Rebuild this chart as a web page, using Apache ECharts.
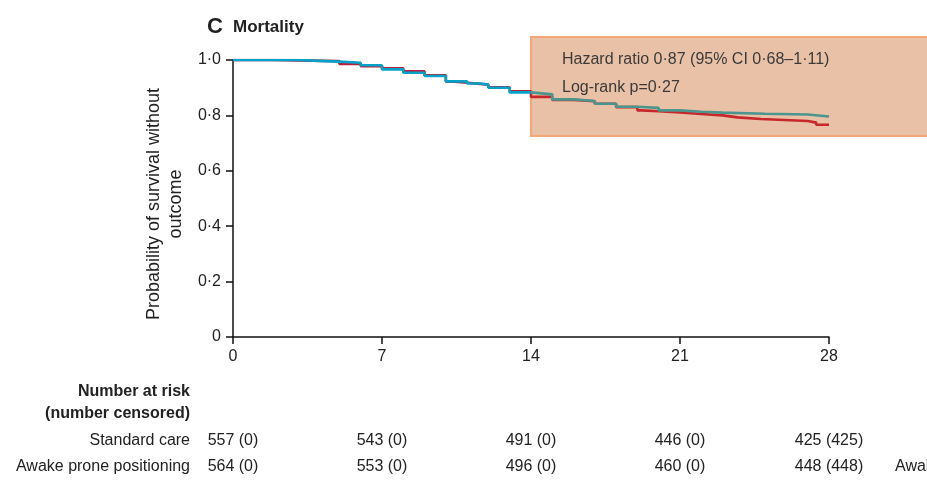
<!DOCTYPE html>
<html>
<head>
<meta charset="utf-8">
<script src="https://cdn.jsdelivr.net/npm/echarts@6/dist/echarts.min.js"></script>
<style>
  html, body { margin: 0; padding: 0; background: #fff; }
  #chart { width: 927px; height: 480px; }
</style>
</head>
<body>
<div id="chart"></div>
<script>
// Kaplan–Meier mortality curves (days 0–28)
const stdTimes = [0, 1.8, 5, 6, 7, 8, 9, 10, 10.4, 11, 12, 13, 14, 15, 16, 17, 18, 19, 19.2, 20, 21, 22, 23, 23.7, 24.8, 27, 27.4, 28];
const stdSurv  = [1.0, 0.996, 0.986, 0.978, 0.970, 0.959, 0.945, 0.922, 0.918, 0.911, 0.901, 0.887, 0.867, 0.856, 0.851, 0.842, 0.830, 0.818, 0.815, 0.811, 0.805, 0.800, 0.793, 0.787, 0.780, 0.774, 0.766, 0.765];

const proneTimes = [0, 3, 4, 5, 6, 7, 8, 9, 10, 11, 11.6, 12, 13, 14, 15, 16, 17, 18, 19, 20, 21, 22, 23, 25, 27, 28];
const proneSurv  = [1.0, 0.997, 0.994, 0.990, 0.981, 0.966, 0.954, 0.942, 0.923, 0.915, 0.911, 0.900, 0.883, 0.876, 0.858, 0.852, 0.842, 0.831, 0.827, 0.818, 0.813, 0.810, 0.806, 0.803, 0.796, 0.794];

// Number-at-risk table
const riskDays = [0, 7, 14, 21, 28];
const riskStandard = ['557 (0)', '543 (0)', '491 (0)', '446 (0)', '425 (425)'];
const riskProne    = ['564 (0)', '553 (0)', '496 (0)', '460 (0)', '448 (448)'];
const groupNames   = ['Standard care', 'Awake prone positioning'];

const FONT = '"Liberation Sans", Arial, sans-serif';
const TXT = '#222';
const SHADE_FROM = 14;   // day where the shaded annotation panel begins

const toPairs = (ts, vs) => ts.map((t, i) => [t, vs[i]]);
const fmt = v => (v === 0 ? '0' : v.toFixed(1).replace('.', '·'));

const chart = echarts.init(document.getElementById('chart'), null, { renderer: 'canvas' });

const option = {
  animation: false,
  backgroundColor: '#fff',
  grid: { left: 233, right: 98, top: 60, bottom: 143, containLabel: false },
  xAxis: {
    type: 'value', min: 0, max: 28, interval: 7,
    axisLine: { show: true, lineStyle: { color: '#111', width: 1.5 } },
    axisTick: { show: true, length: 7, lineStyle: { color: '#111', width: 1.5 } },
    axisLabel: { color: TXT, fontFamily: FONT, fontSize: 16, margin: 12 },
    splitLine: { show: false }
  },
  yAxis: {
    type: 'value', min: 0, max: 1, interval: 0.2,
    name: 'Probability of survival without\noutcome',
    nameLocation: 'middle', nameGap: 43,
    nameTextStyle: { color: TXT, fontFamily: FONT, fontSize: 18, lineHeight: 22, align: 'center',
                     padding: [0, 11, 0, 0] },
    axisLine: { show: true, lineStyle: { color: '#111', width: 1.5 } },
    axisTick: { show: true, length: 7, lineStyle: { color: '#111', width: 1.5 } },
    axisLabel: { color: TXT, fontFamily: FONT, fontSize: 16, margin: 12, formatter: v => fmt(v) },
    splitLine: { show: false }
  },
  series: [
    { name: groupNames[0], type: 'line', step: 'end', showSymbol: false, symbol: 'none',
      data: toPairs(stdTimes, stdSurv), lineStyle: { width: 2.6, color: '#b41f3c' }, z: 3 },
    { name: groupNames[1], type: 'line', step: 'end', showSymbol: false, symbol: 'none',
      data: toPairs(proneTimes, proneSurv), lineStyle: { width: 2.6, color: '#04a2c8' }, z: 4 }
  ]
};
chart.setOption(option);

const px = d => chart.convertToPixel({ xAxisIndex: 0 }, d);
const x0 = px(0), x1 = px(28), xs = px(SHADE_FROM);
const cut = (xs - x0) / (x1 - x0);

// Hard colour switch where the curves pass under the shaded panel
const twoTone = (a, b) => new echarts.graphic.LinearGradient(x0, 0, x1, 0, [
  { offset: 0, color: a }, { offset: cut, color: a },
  { offset: cut, color: b }, { offset: 1, color: b }
], true);

// Annotation box, title and number-at-risk table
const boxLeft = xs;
const graphics = [
  { type: 'rect', z: 1, silent: true,
    shape: { x: boxLeft, y: 37, width: 927 - boxLeft + 10, height: 99 },
    style: { fill: '#e9c1a6', stroke: '#f3a778', lineWidth: 2 } },
  { type: 'text', z: 10, left: 562, top: 52,
    style: { text: 'Hazard ratio 0·87 (95% CI 0·68–1·11)', font: '16px ' + FONT, fill: '#3a3a3a' } },
  { type: 'text', z: 10, left: 562, top: 80,
    style: { text: 'Log-rank p=0·27', font: '16px ' + FONT, fill: '#3a3a3a' } },
  { type: 'text', z: 10, left: 207, top: 16,
    style: { text: 'C', font: '600 22px ' + FONT, fill: '#222' } },
  { type: 'text', z: 10, left: 233, top: 19,
    style: { text: 'Mortality', font: '600 17px ' + FONT, fill: '#222' } },
  { type: 'text', z: 10, x: 190, y: 392,
    style: { text: 'Number at risk', font: '600 16px ' + FONT, fill: '#222', align: 'right', verticalAlign: 'middle' } },
  { type: 'text', z: 10, x: 190, y: 414,
    style: { text: '(number censored)', font: '600 16px ' + FONT, fill: '#222', align: 'right', verticalAlign: 'middle' } },
  { type: 'text', z: 10, x: 190, y: 441,
    style: { text: groupNames[0], font: '16px ' + FONT, fill: '#222', align: 'right', verticalAlign: 'middle' } },
  { type: 'text', z: 10, x: 190, y: 467,
    style: { text: groupNames[1], font: '16px ' + FONT, fill: '#222', align: 'right', verticalAlign: 'middle' } },
  { type: 'text', z: 10, x: 895, y: 467,
    style: { text: groupNames[1], font: '16px ' + FONT, fill: '#222', align: 'left', verticalAlign: 'middle' } }
];

riskDays.forEach((d, i) => {
  graphics.push({ type: 'text', z: 10, x: px(d), y: 441,
    style: { text: riskStandard[i], font: '16px ' + FONT, fill: '#222', align: 'center', verticalAlign: 'middle' } });
  graphics.push({ type: 'text', z: 10, x: px(d), y: 467,
    style: { text: riskProne[i], font: '16px ' + FONT, fill: '#222', align: 'center', verticalAlign: 'middle' } });
});

chart.setOption({
  graphic: graphics,
  series: [
    { lineStyle: { color: twoTone('#b41f3c', '#c7262b') } },
    { lineStyle: { color: twoTone('#04a2c8', '#4b958f') } }
  ]
});
</script>
</body>
</html>
